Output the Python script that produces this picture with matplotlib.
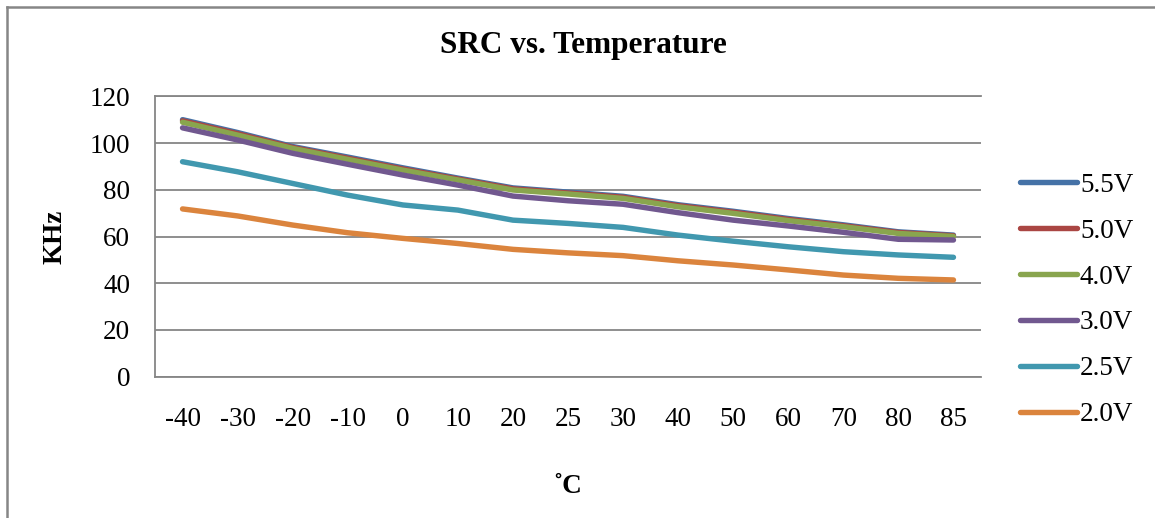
import matplotlib.pyplot as plt
from matplotlib.lines import Line2D

# temperatures (categories) and measured SRC frequency in KHz
temps = ["-40", "-30", "-20", "-10", "0", "10", "20", "25", "30", "40", "50", "60", "70", "80", "85"]
v55 = [110.0, 104.5, 98.5, 94.0, 89.4, 85.0, 80.8, 79.0, 77.2, 73.6, 70.8, 67.7, 65.0, 62.0, 60.6]
v50 = [109.5, 104.0, 98.1, 93.5, 88.9, 84.6, 80.4, 78.6, 76.8, 73.2, 70.4, 67.3, 64.6, 61.7, 60.3]
v40 = [108.9, 103.4, 97.7, 93.0, 88.4, 84.2, 79.9, 78.2, 76.3, 72.7, 69.9, 66.8, 64.2, 61.3, 60.0]
v30 = [106.5, 101.3, 95.6, 90.9, 86.3, 82.0, 77.3, 75.3, 73.8, 70.2, 67.0, 64.5, 61.8, 58.8, 58.5]
v25 = [92.0, 87.7, 82.7, 77.7, 73.5, 71.3, 67.0, 65.6, 63.9, 60.6, 58.0, 55.6, 53.5, 52.1, 51.1]
v20 = [71.8, 68.8, 64.9, 61.6, 59.2, 57.0, 54.5, 53.0, 51.8, 49.6, 47.8, 45.7, 43.5, 42.1, 41.4]

series = [("5.5V", v55, "#4572A7"), ("5.0V", v50, "#AA4643"), ("4.0V", v40, "#89A54E"),
          ("3.0V", v30, "#71588F"), ("2.5V", v25, "#4198AF"), ("2.0V", v20, "#DB843D")]

plt.rcParams['font.family'] = ['Liberation Serif', 'DejaVu Serif']
grey = "#868686"

fig = plt.figure(figsize=(11.55, 5.18), dpi=100)
ax = fig.add_axes([155 / 1155, 1 - 376.7 / 518, 826 / 1155, 280.4 / 518])

x = list(range(len(temps)))
for name, vals, col in series:
    ax.plot(x, vals, color=col, lw=3.9, solid_capstyle='round', solid_joinstyle='round', label=name)

ax.set_xlim(-0.5, len(temps) - 0.5)
ax.set_ylim(0, 120)
ax.set_yticks(range(0, 121, 20))
ax.set_xticks(x)
ax.set_xticklabels(temps)
ax.yaxis.grid(True, color=grey, lw=1.3)
ax.set_axisbelow(True)
ax.tick_params(axis='x', length=0, pad=22, labelsize=19.5)
ax.tick_params(axis='y', length=0, pad=18, labelsize=19.5)
for s in ['left', 'bottom', 'top']:
    ax.spines[s].set_color(grey)
    ax.spines[s].set_linewidth(1.3)
ax.spines['right'].set_visible(False)

ax.set_ylabel("KHz", fontsize=19.5, fontweight='bold', labelpad=16)
ax.set_xlabel("˚C", fontsize=19.5, fontweight='bold', labelpad=30)
fig.text(583 / 1155, 1 - 45 / 518, "SRC vs. Temperature", fontsize=22.5, fontweight='bold',
         ha='center', va='center')

fig.legend(loc='center left', bbox_to_anchor=(996 / 1155, 1 - 300 / 518), frameon=False,
           fontsize=19.5, handlelength=2.1, handletextpad=0.1, labelspacing=0.77)

# outer chart area border (left and top only visible in the crop)
fig.add_artist(Line2D([7 / 1155, 7 / 1155], [0, 1 - 7 / 518], color=grey, lw=1.8))
fig.add_artist(Line2D([7 / 1155, 1], [1 - 7 / 518, 1 - 7 / 518], color=grey, lw=1.8))

fig.savefig("out.png", dpi=100)
